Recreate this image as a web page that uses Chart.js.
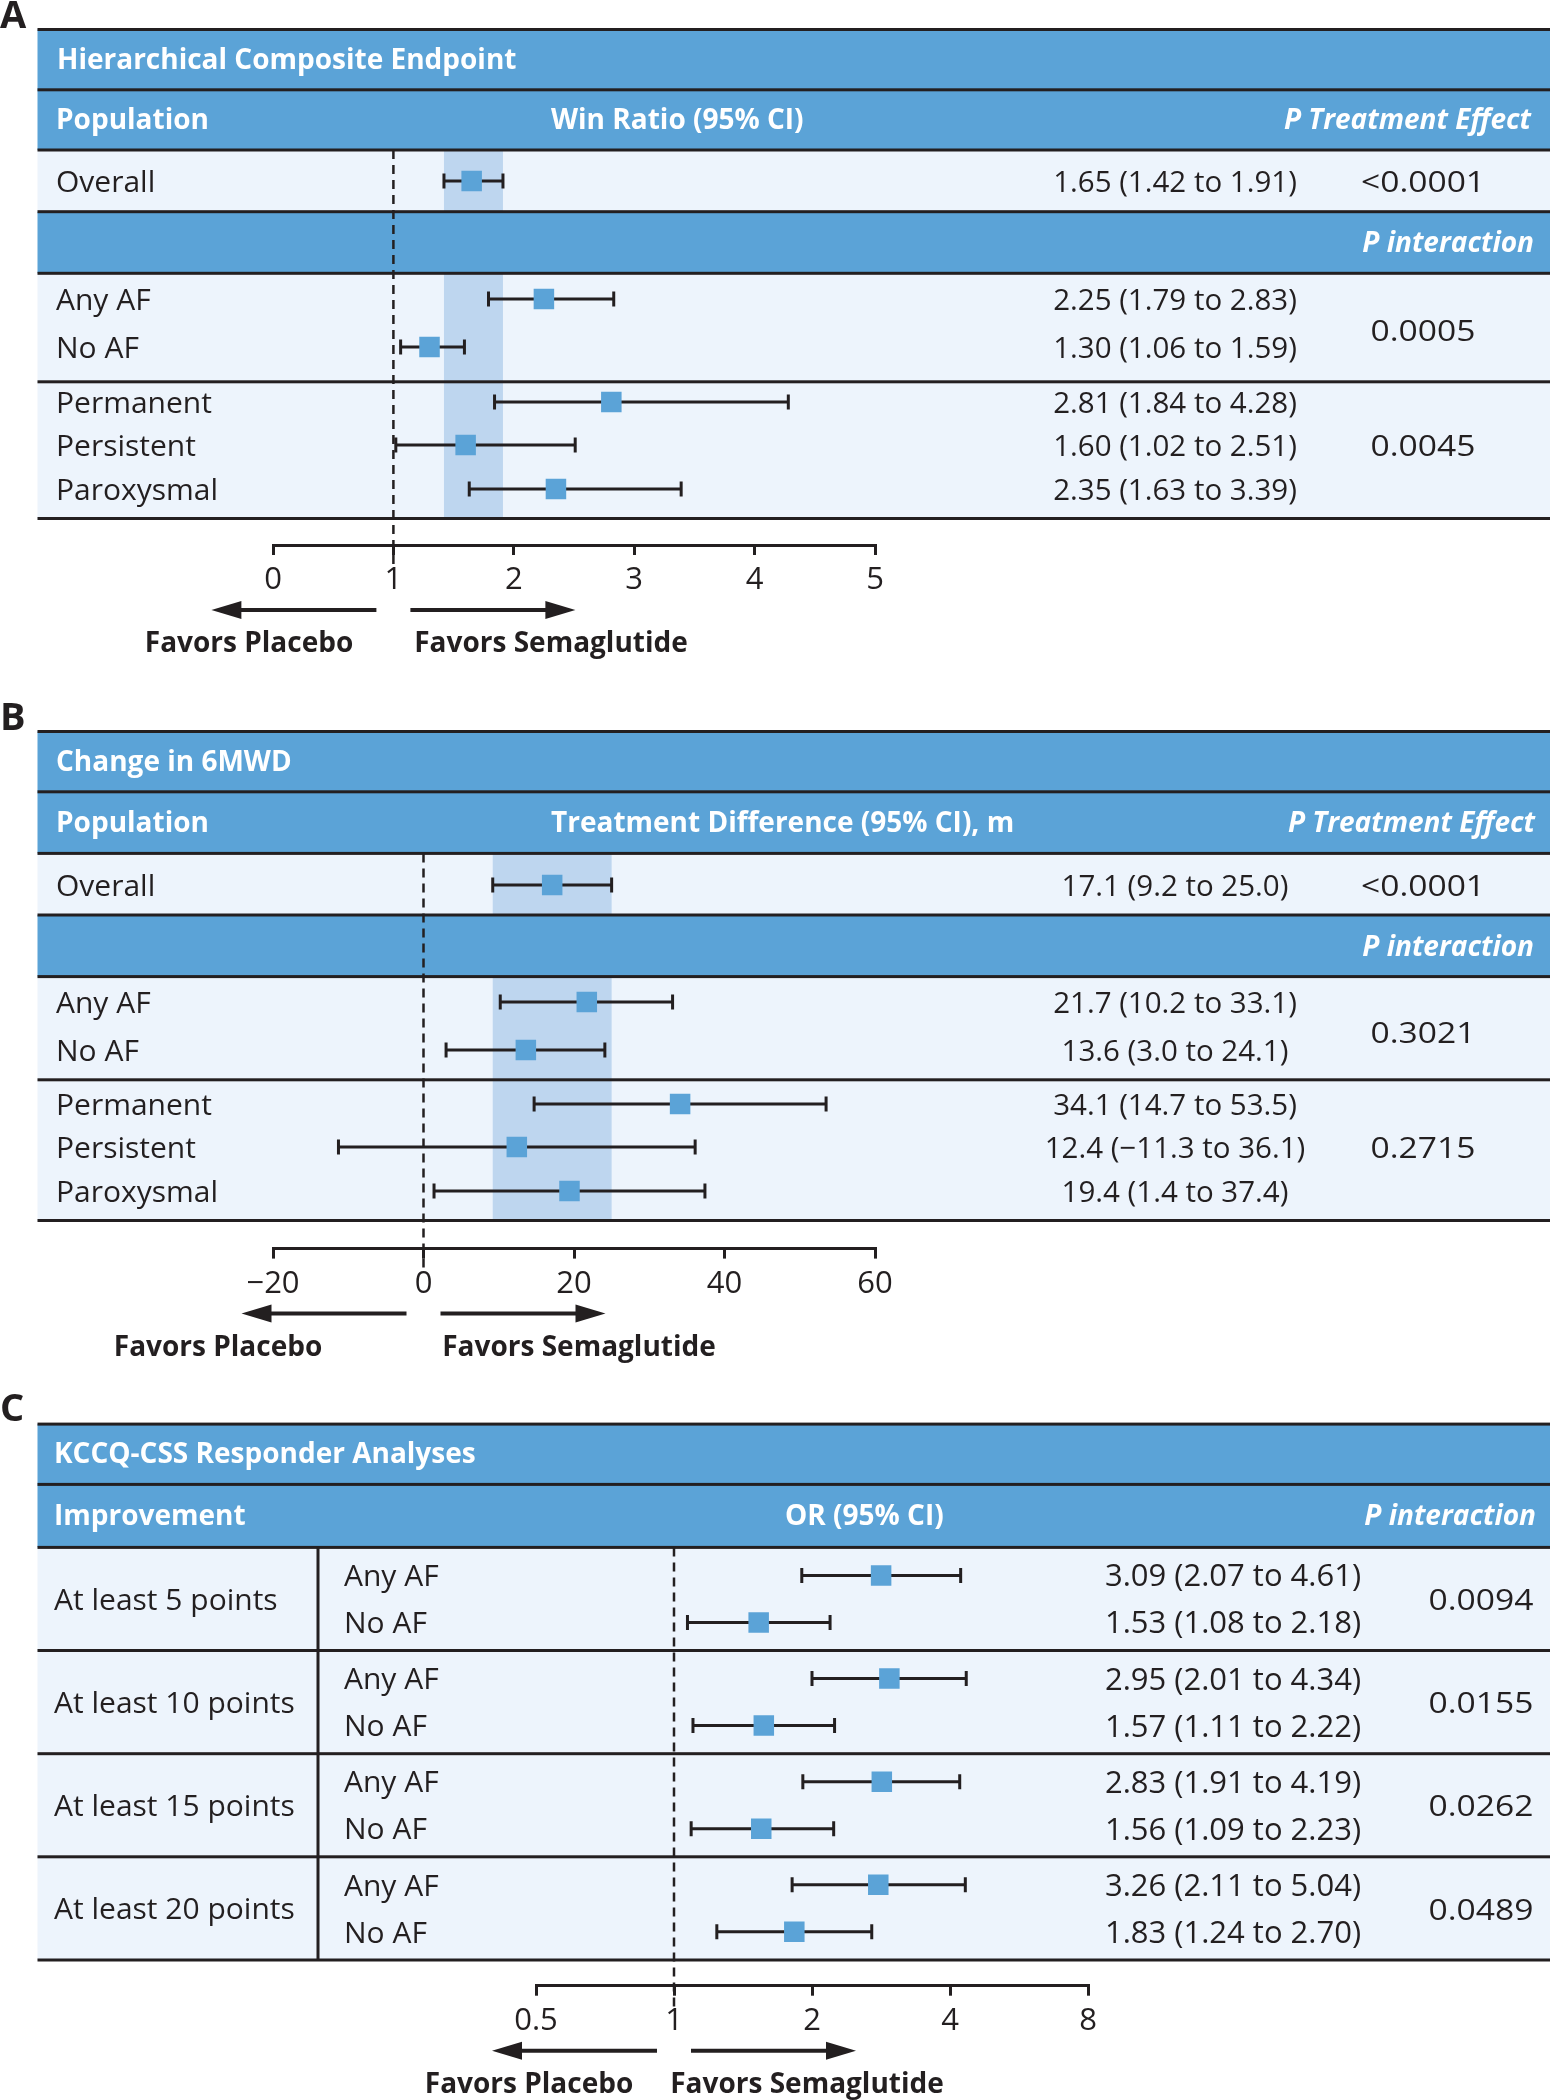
<!DOCTYPE html>
<html lang="en">
<head>
<meta charset="UTF-8">
<title>Semaglutide outcomes by AF status</title>
<script src="https://cdn.jsdelivr.net/npm/chart.js"></script>
<style>
  body { margin: 0; background: #fff; }
  #wrap { position: relative; width: 1550px; height: 2100px; }
  canvas { position: absolute; left: 0; }
</style>
</head>
<body>
<div id="wrap">
  <canvas id="chartA" width="1550" height="690" style="top:0px"></canvas>
  <canvas id="chartB" width="1550" height="700" style="top:690px"></canvas>
  <canvas id="chartC" width="1550" height="710" style="top:1390px"></canvas>
</div>
<script>
// ---- data ----
const popLabels = ['Overall', 'Any AF', 'No AF', 'Permanent', 'Persistent', 'Paroxysmal'];

// A: hierarchical composite endpoint, win ratio
const winRatio = [1.65, 2.25, 1.30, 2.81, 1.60, 2.35];
const winLo    = [1.42, 1.79, 1.06, 1.84, 1.02, 1.63];
const winHi    = [1.91, 2.83, 1.59, 4.28, 2.51, 3.39];
const pA = ['<0.0001', '0.0005', '0.0045'];
const ticksA = [0, 1, 2, 3, 4, 5];

// B: change in 6MWD, treatment difference (m)
const diff6mwd = [17.1, 21.7, 13.6, 34.1, 12.4, 19.4];
const diffLo   = [9.2, 10.2, 3.0, 14.7, -11.3, 1.4];
const diffHi   = [25.0, 33.1, 24.1, 53.5, 36.1, 37.4];
const pB = ['<0.0001', '0.3021', '0.2715'];
const ticksB = [-20, 0, 20, 40, 60];

// C: KCCQ-CSS responder analyses, odds ratio
const kccqGroups = ['At least 5 points', 'At least 10 points', 'At least 15 points', 'At least 20 points'];
const afLabels = ['Any AF', 'No AF'];
// marks as drawn in the figure
const orAny   = [2.83, 2.95, 2.84, 2.79];
const orAnyLo = [1.90, 2.00, 1.91, 1.81];
const orAnyHi = [4.22, 4.34, 4.20, 4.32];
const orNo    = [1.53, 1.57, 1.55, 1.83];
const orNoLo  = [1.07, 1.10, 1.09, 1.24];
const orNoHi  = [2.19, 2.24, 2.23, 2.70];
// estimates as printed in the table
const orAnyText = ['3.09 (2.07 to 4.61)', '2.95 (2.01 to 4.34)', '2.83 (1.91 to 4.19)', '3.26 (2.11 to 5.04)'];
const orNoText  = ['1.53 (1.08 to 2.18)', '1.57 (1.11 to 2.22)', '1.56 (1.09 to 2.23)', '1.83 (1.24 to 2.70)'];
const pC = ['0.0094', '0.0155', '0.0262', '0.0489'];
const ticksC = [0.5, 1, 2, 4, 8];

// ---- look ----
const INK = '#231f20';
const BLUE = '#5ba3d7';
const LIGHT = '#edf4fc';
const BAND = '#bed6ef';
const FONT = '"Open Sans", "DejaVu Sans", sans-serif';
const TABLE_LEFT = 37.5;
const LABEL_SIZE = 30;

const minus = v => (v < 0 ? '\u2212' + Math.abs(v) : String(v));
const f2 = v => v.toFixed(2);
const f1 = v => (v < 0 ? '\u2212' : '') + Math.abs(v).toFixed(1);

function txt(ctx, s, x, y, o = {}) {
  const size = o.size || 28;
  const sx = o.sx || 1;
  ctx.save();
  ctx.font = (o.italic ? 'italic ' : '') + (o.bold ? 'bold ' : '') + size + 'px ' + FONT;
  ctx.fillStyle = o.color || INK;
  ctx.textAlign = o.align || 'left';
  ctx.textBaseline = 'alphabetic';
  ctx.translate(x, y + size * 0.357);
  ctx.scale(sx, 1);
  ctx.fillText(s, 0, 0);
  ctx.restore();
}

function arrow(ctx, x0, x1, y) {
  const d = Math.sign(x1 - x0);
  ctx.save();
  ctx.strokeStyle = INK;
  ctx.fillStyle = INK;
  ctx.lineWidth = 4;
  ctx.beginPath();
  ctx.moveTo(x0, y);
  ctx.lineTo(x1 - d * 26, y);
  ctx.stroke();
  ctx.beginPath();
  ctx.moveTo(x1, y);
  ctx.lineTo(x1 - d * 30, y - 9);
  ctx.lineTo(x1 - d * 30, y + 9);
  ctx.closePath();
  ctx.fill();
  ctx.restore();
}

function ciPoints(lo, hi, ys) {
  const pts = [];
  lo.forEach((v, i) => {
    pts.push({ x: v, y: ys[i] }, { x: hi[i], y: ys[i] }, { x: null, y: null });
  });
  return pts;
}

// table, band, reference line, texts
function tablePlugin(L) {
  return {
    id: 'table' + L.letter,
    beforeDraw(chart) {
      const ctx = chart.ctx, xs = chart.scales.x, ys = chart.scales.y;
      const W = chart.width;
      const py = v => ys.getPixelForValue(v);
      ctx.save();
      ctx.fillStyle = BLUE;
      L.blue.forEach(([t, b]) => ctx.fillRect(TABLE_LEFT, py(t), W - TABLE_LEFT, py(b) - py(t)));
      ctx.fillStyle = LIGHT;
      L.light.forEach(([t, b]) => ctx.fillRect(TABLE_LEFT, py(t), W - TABLE_LEFT, py(b) - py(t)));
      if (L.band) {
        const x0 = xs.getPixelForValue(L.band[0]), x1 = xs.getPixelForValue(L.band[1]);
        ctx.fillStyle = BAND;
        L.light.forEach(([t, b]) => ctx.fillRect(x0, py(t), x1 - x0, py(b) - py(t)));
      }
      ctx.fillStyle = INK;
      L.lines.forEach(v => ctx.fillRect(TABLE_LEFT, py(v) - 1.5, W - TABLE_LEFT, 3));
      if (L.vsep) ctx.fillRect(L.vsep[0] - 1.5, py(L.vsep[1]), 3, py(L.vsep[2]) - py(L.vsep[1]));
      // reference line
      const rx = xs.getPixelForValue(L.ref);
      ctx.strokeStyle = INK;
      ctx.lineWidth = 2.5;
      ctx.setLineDash([9, 6]);
      ctx.beginPath();
      ctx.moveTo(rx, py(L.dashTop));
      ctx.lineTo(rx, chart.chartArea.bottom + 22);
      ctx.stroke();
      ctx.restore();
    },
    afterDraw(chart) {
      const ctx = chart.ctx, xs = chart.scales.x;
      const rx = xs.getPixelForValue(L.ref);
      txt(ctx, L.letter, 0, L.letterY, { bold: true, size: 38 });
      txt(ctx, L.title, L.textLeft, L.titleY, { bold: true, color: '#fff' });
      L.header.forEach(h => txt(ctx, h.s, h.x, L.headY, { bold: true, italic: h.italic, align: h.align, color: '#fff' }));
      if (L.pIntY) txt(ctx, 'P interaction', 1534, L.pIntY, { bold: true, italic: true, align: 'right', color: '#fff' });
      L.texts.forEach(t => txt(ctx, t.s, t.x, t.y, { align: t.align || 'left', size: t.size, sx: t.sx }));
      const ay = chart.chartArea.bottom;
      arrow(ctx, rx - 17, rx - 182, ay + 65);
      arrow(ctx, rx + 17, rx + 182, ay + 65);
      txt(ctx, 'Favors Placebo', L.placeboX, ay + 97, { bold: true, align: 'center' });
      txt(ctx, 'Favors Semaglutide', L.semaX, ay + 97, { bold: true, align: 'center' });
    }
  };
}

function makePanel(id, L, est, lo, hi, rowY, scaleOpts) {
  return new Chart(document.getElementById(id), {
    type: 'scatter',
    data: {
      datasets: [
        {
          data: est.map((v, i) => ({ x: v, y: rowY[i] })),
          pointStyle: 'rect',
          pointRadius: 14.5,
          pointBackgroundColor: BLUE,
          pointBorderColor: BLUE,
          pointBorderWidth: 0,
          order: 0
        },
        {
          data: ciPoints(lo, hi, rowY),
          showLine: true,
          spanGaps: false,
          borderColor: INK,
          borderWidth: 3,
          pointStyle: 'line',
          pointRotation: 90,
          pointRadius: 7.5,
          pointBorderWidth: 3,
          pointBorderColor: INK,
          order: 1
        }
      ]
    },
    options: {
      responsive: false,
      animation: false,
      events: [],
      layout: { autoPadding: false, padding: { left: L.axisLeft, right: 1550 - L.axisRight, top: 0, bottom: 0 } },
      plugins: { legend: { display: false }, tooltip: { enabled: false } },
      scales: {
        x: Object.assign({
          afterBuildTicks: s => { s.ticks = L.ticks.map(v => ({ value: v })); },
          afterFit: s => { s.height = L.height - L.axisY; },
          ticks: {
            font: { family: FONT, size: 31 },
            color: INK,
            padding: 7,
            autoSkip: false,
            maxRotation: 0,
            callback: v => minus(v)
          },
          grid: { drawOnChartArea: false, drawTicks: true, tickLength: 10, lineWidth: 3, color: INK },
          border: { display: true, color: INK, width: 3 }
        }, scaleOpts),
        y: { type: 'linear', display: false, reverse: true, min: 0, max: L.axisY }
      }
    },
    plugins: [tablePlugin(L)]
  });
}

// ---- panel A ----
const rowA = [181, 299, 347, 402, 445, 489];
const layoutA = {
  letter: 'A', letterY: 14, height: 690, axisY: 545, axisLeft: 273, axisRight: 875,
  ticks: ticksA, ref: 1, band: [winLo[0], winHi[0]], dashTop: 150,
  lines: [29.5, 89.8, 150, 211.7, 273.3, 381.8, 518.5],
  blue: [[29.5, 89.8], [89.8, 150], [211.7, 273.3]],
  light: [[150, 211.7], [273.3, 518.5]],
  textLeft: 57, title: 'Hierarchical Composite Endpoint', titleY: 59, headY: 119, pIntY: 242.5,
  header: [
    { s: 'Population', x: 56 },
    { s: 'Win Ratio (95% CI)', x: 551 },
    { s: 'P Treatment Effect', x: 1531, align: 'right', italic: true }
  ],
  placeboX: 249, semaX: 551,
  texts: []
};
popLabels.forEach((s, i) => {
  layoutA.texts.push({ s, x: 56, y: rowA[i], size: LABEL_SIZE });
  layoutA.texts.push({ s: `${f2(winRatio[i])} (${f2(winLo[i])} to ${f2(winHi[i])})`, x: 1175, y: rowA[i], align: 'center', size: 29.5 });
});
[181, 330, 445].forEach((y, i) => layoutA.texts.push({ s: pA[i], x: 1423, y, align: 'center', size: 30, sx: 1.12 }));
makePanel('chartA', layoutA, winRatio, winLo, winHi, rowA, { type: 'linear', min: 0, max: 5 });

// ---- panel B ----
const rowB = [195, 312, 360, 414, 457, 501];
const layoutB = {
  letter: 'B', letterY: 26, height: 700, axisY: 558.6, axisLeft: 273, axisRight: 875,
  ticks: ticksB, ref: 0, band: [diffLo[0], diffHi[0]], dashTop: 163.4,
  lines: [41.5, 101.8, 163.4, 225, 286.6, 389.8, 530.5],
  blue: [[41.5, 101.8], [101.8, 163.4], [225, 286.6]],
  light: [[163.4, 225], [286.6, 530.5]],
  textLeft: 56, title: 'Change in 6MWD', titleY: 70.6, headY: 131.6, pIntY: 255.8,
  header: [
    { s: 'Population', x: 56 },
    { s: 'Treatment Difference (95% CI), m', x: 551 },
    { s: 'P Treatment Effect', x: 1535, align: 'right', italic: true }
  ],
  placeboX: 218, semaX: 579,
  texts: []
};
popLabels.forEach((s, i) => {
  layoutB.texts.push({ s, x: 56, y: rowB[i], size: LABEL_SIZE });
  layoutB.texts.push({ s: `${f1(diff6mwd[i])} (${f1(diffLo[i])} to ${f1(diffHi[i])})`, x: 1175, y: rowB[i], align: 'center', size: 29.5 });
});
[195, 342, 457].forEach((y, i) => layoutB.texts.push({ s: pB[i], x: 1423, y, align: 'center', size: 30, sx: 1.12 }));
makePanel('chartB', layoutB, diff6mwd, diffLo, diffHi, rowB, { type: 'linear', min: -20, max: 60 });

// ---- panel C ----
const groupTop = [157.4, 260.5, 363.7, 466.8];
const rowC = [];
const estC = [], loC = [], hiC = [];
const layoutC = {
  letter: 'C', letterY: 17, height: 710, axisY: 595.7, axisLeft: 536, axisRight: 1088,
  ticks: ticksC, ref: 1, band: null, dashTop: 157.4,
  lines: [34.1, 94.4, 157.4, 260.5, 363.7, 466.8, 570],
  blue: [[34.1, 94.4], [94.4, 157.4]],
  light: [[157.4, 570]],
  vsep: [318, 157.4, 570],
  textLeft: 54, title: 'KCCQ-CSS Responder Analyses', titleY: 63.2, headY: 124.9, pIntY: null,
  header: [
    { s: 'Improvement', x: 54 },
    { s: 'OR (95% CI)', x: 785 },
    { s: 'P interaction', x: 1536, align: 'right', italic: true }
  ],
  placeboX: 529, semaX: 807,
  texts: []
};
kccqGroups.forEach((g, i) => {
  const t = groupTop[i];
  const subs = [[orAny, orAnyLo, orAnyHi, orAnyText], [orNo, orNoLo, orNoHi, orNoText]];
  layoutC.texts.push({ s: g, x: 54, y: t + 51.5, size: LABEL_SIZE });
  layoutC.texts.push({ s: pC[i], x: 1481, y: t + 52, align: 'center', size: 30, sx: 1.12 });
  subs.forEach(([e, l, h, label], k) => {
    const y = t + (k === 0 ? 28 : 75);
    rowC.push(y);
    estC.push(e[i]); loC.push(l[i]); hiC.push(h[i]);
    layoutC.texts.push({ s: afLabels[k], x: 344, y, size: LABEL_SIZE });
    layoutC.texts.push({ s: label[i], x: 1233, y, align: 'center', size: 31 });
  });
});
makePanel('chartC', layoutC, estC, loC, hiC, rowC, { type: 'logarithmic', min: 0.5, max: 8 });
</script>
</body>
</html>
